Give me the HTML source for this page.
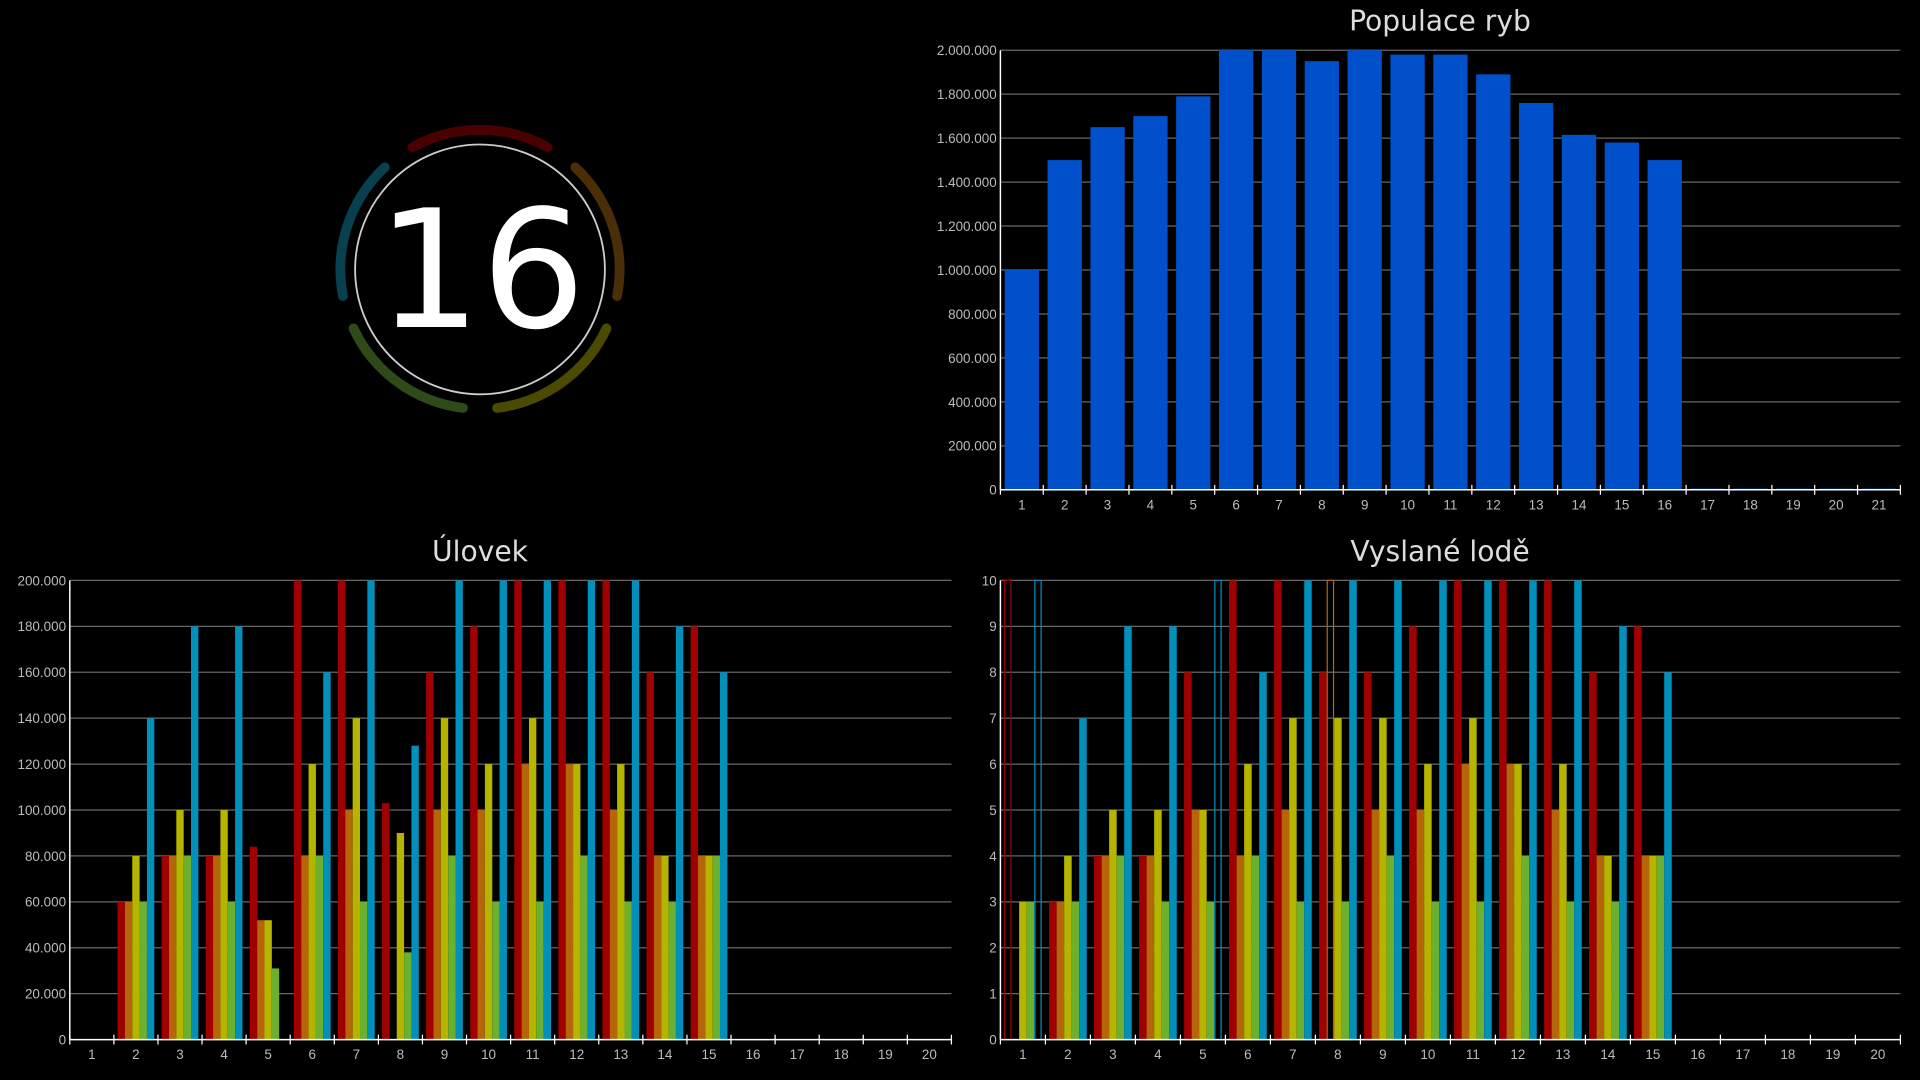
<!DOCTYPE html>
<html><head><meta charset="utf-8">
<style>
html,body{margin:0;padding:0;background:#000;width:1920px;height:1080px;overflow:hidden}
svg{display:block}
text{font-family:"Liberation Sans",sans-serif}
.tk{fill:#bbb;font-size:11px}
.ti{fill:#ddd;font-size:23px;font-family:"DejaVu Sans",sans-serif}
</style></head>
<body>
<svg id="s" width="1920" height="1080" viewBox="0 0 1568 882" xmlns="http://www.w3.org/2000/svg">
<rect width="1568" height="882" fill="#000"/>
<g id="g"></g>
<circle cx="392" cy="220" r="102" fill="none" stroke="#ccc" stroke-width="1.5"/>
<text x="393" y="267" text-anchor="middle" fill="#fff" font-size="134" style="font-family:'DejaVu Sans',sans-serif">16</text>
<text class="ti" x="1176" y="25" text-anchor="middle">Populace ryb</text>
<text class="ti" x="392" y="458" text-anchor="middle">Úlovek</text>
<text class="ti" x="1176" y="458" text-anchor="middle">Vyslané lodě</text>
</svg>
<script>
var NS="http://www.w3.org/2000/svg",G=document.getElementById("g");
function el(t,a,txt){var e=document.createElementNS(NS,t);for(var k in a)e.setAttribute(k,a[k]);if(txt!=null)e.textContent=txt;G.appendChild(e);return e;}
var cx=392,cy=220,R=114,arcs=[[90,"#4a0000"],[18,"#4a2e08"],[-54,"#4a4a00"],[-126,"#2e4a18"],[162,"#08404f"]];
arcs.forEach(function(a){var h=29,a1=(a[0]+h)*Math.PI/180,a2=(a[0]-h)*Math.PI/180;
var x1=cx+R*Math.cos(a1),y1=cy-R*Math.sin(a1),x2=cx+R*Math.cos(a2),y2=cy-R*Math.sin(a2);
el("path",{d:"M"+x1+" "+y1+" A"+R+" "+R+" 0 0 1 "+x2+" "+y2,fill:"none",stroke:a[1],"stroke-width":8,"stroke-linecap":"round"});});
function fmt(v){return v.toString().replace(/\B(?=(\d{3})+(?!\d))/g,".");}
function axes(x0,x1,y0,y1,n,steps,lab){
 for(var i=0;i<=steps;i++){var y=y0-(y0-y1)*i/steps;
  if(i>0)el("line",{x1:x0,x2:x1,y1:y,y2:y,stroke:"#666","stroke-width":1});
  el("text",{x:x0-3,y:y+4,"text-anchor":"end","class":"tk"},lab(i));}
}
function frame(x0,x1,y0,y1,groups){
 el("line",{x1:x0,x2:x0,y1:y1,y2:y0,stroke:"#fff","stroke-width":1.2});
 el("line",{x1:x0,x2:x1,y1:y0,y2:y0,stroke:"#fff","stroke-width":1.2});
 var w=(x1-x0)/groups;
 for(var i=0;i<=groups;i++){el("line",{x1:x0+w*i,x2:x0+w*i,y1:y0-4,y2:y0+4,stroke:"#fff","stroke-width":1});}
 for(var i=0;i<groups;i++)el("text",{x:x0+w*(i+.5),y:y0+16,"text-anchor":"middle","class":"tk"},i+1);
}
(function(){var x0=817,x1=1552,y0=400,y1=41,n=21,w=(x1-x0)/n;
 axes(x0,x1,y0,y1,n,10,function(i){return fmt(i*200000)});
 var d=[1000,1500,1650,1700,1790,2000,2000,1950,2000,1980,1980,1890,1760,1615,1580,1500,0,0,0,0,0];
 d.forEach(function(v,i){var h=v/2000*(y0-y1);if(h<1)h=1;el("rect",{x:x0+w*i+3.5,y:y0-h,width:28,height:h,fill:"#0050cc"});});
 frame(x0,x1,y0,y1,n);})();
var C=["#a00000","#b5650a","#b5b500","#6cb030","#0090bb"];
function grouped(x0,x1,y0,y1,n,max,data,lab,outlines){
 var w=(x1-x0)/n,bw=(w-6)/5;
 axes(x0,x1,y0,y1,n,10,lab);
 data.forEach(function(g,i){g.forEach(function(v,k){if(!v)return;var h=v/max*(y0-y1);
  el("rect",{x:x0+w*i+3+k*bw,y:y0-h,width:bw,height:h,fill:C[k]});});});
 (outlines||[]).forEach(function(o){el("rect",{x:x0+w*o[0]+3+o[1]*bw+.5,y:y1,width:bw-1,height:y0-y1,fill:"none",stroke:C[o[1]],"stroke-width":1});});
 frame(x0,x1,y0,y1,n);
}
grouped(57,777,849,474,20,200,[[0,0,0,0,0],[60,60,80,60,140],[80,80,100,80,180],[80,80,100,60,180],[84,52,52,31,0],[200,80,120,80,160],[200,100,140,60,200],[103,0,90,38,128],[160,100,140,80,200],[180,100,120,60,200],[200,120,140,60,200],[200,120,120,80,200],[200,100,120,60,200],[160,80,80,60,180],[180,80,80,80,160]],function(i){return fmt(i*20000)});
grouped(817,1552,849,474,20,10,[[0,0,3,3,0],[3,3,4,3,7],[4,4,5,4,9],[4,4,5,3,9],[8,5,5,3,0],[10,4,6,4,8],[10,5,7,3,10],[8,0,7,3,10],[8,5,7,4,10],[9,5,6,3,10],[10,6,7,3,10],[10,6,6,4,10],[10,5,6,3,10],[8,4,4,3,9],[9,4,4,4,8]],function(i){return i},[[0,0],[0,4],[4,4],[7,1]]);
</script>
</body></html>
